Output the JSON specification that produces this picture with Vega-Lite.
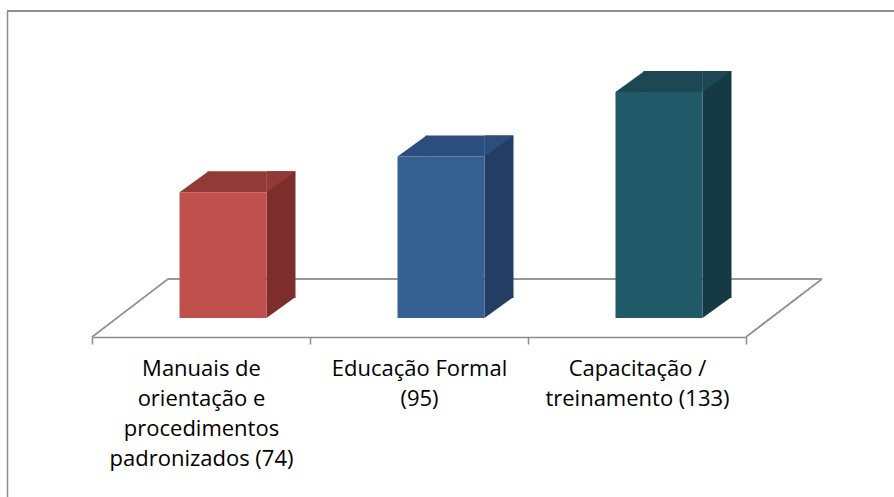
{
  "$schema": "https://vega.github.io/schema/vega-lite/v6.json",
  "width": 887,
  "height": 486,
  "autosize": {"type": "none"},
  "padding": {"left": 7, "top": 11, "right": 0, "bottom": 0},
  "background": "white",
  "config": {
    "view": {"stroke": null},
    "font": "Open Sans",
    "axisX": {
      "domainColor": "#8c8c8c",
      "domainWidth": 1.5,
      "tickColor": "#8c8c8c",
      "tickWidth": 1.5,
      "tickSize": 7,
      "tickBand": "extent",
      "labelFont": "Open Sans",
      "labelFontSize": 22,
      "labelColor": "#000000",
      "labelLineHeight": 30,
      "labelPadding": 14,
      "labelAngle": 0,
      "labelLimit": 400,
      "labelOverlap": false,
      "labelBound": false,
      "grid": false,
      "offset": -160,
      "labelExpr": "datum.value == 'Manuais de orientação e procedimentos padronizados (74)' ? ['Manuais de', 'orientação e', 'procedimentos', 'padronizados (74)'] : datum.value == 'Educação Formal (95)' ? ['Educação Formal', '(95)'] : datum.value == 'Capacitação / treinamento (133)' ? ['Capacitação /', 'treinamento (133)'] : ''"
    },
    "axisY": {
      "domainColor": "#8c8c8c",
      "domainWidth": 1.5,
      "ticks": false,
      "labels": false,
      "grid": false
    }
  },
  "data": {
    "values": [
      {"categoria": "Manuais de orientação e procedimentos padronizados (74)", "valor": 74},
      {"categoria": "Educação Formal (95)", "valor": 95},
      {"categoria": "Capacitação / treinamento (133)", "valor": 133}
    ]
  },
  "resolve": {"scale": {"color": "independent"}},
  "layer": [
    {
      "mark": {"type": "rule", "color": "#8c8c8c", "strokeWidth": 1.5},
      "encoding": {
        "y": {"datum": 180.588, "type": "quantitative", "title": null, "scale": {"domain": [-105.294, 180.588], "nice": false, "zero": false}}
      }
    },
    {
      "mark": {"type": "rule", "color": "#969696", "strokeWidth": 1.5, "xOffset": -33, "x2Offset": 185},
      "encoding": {
        "x": {"datum": "Manuais de orientação e procedimentos padronizados (74)", "type": "nominal", "title": null, "scale": {"domain": ["Manuais de orientação e procedimentos padronizados (74)", "Educação Formal (95)", "Capacitação / treinamento (133)"], "range": [85, 739], "paddingInner": 0, "paddingOuter": 0}},
        "x2": {"datum": "Capacitação / treinamento (133)"},
        "y": {"datum": 22.94, "type": "quantitative", "title": null}
      }
    },
    {
      "mark": {"type": "rule", "color": "#969696", "strokeWidth": 1.5, "xOffset": -109, "x2Offset": -33},
      "encoding": {
        "x": {"datum": "Manuais de orientação e procedimentos padronizados (74)", "type": "nominal", "title": null},
        "x2": {"datum": "Manuais de orientação e procedimentos padronizados (74)"},
        "y": {"datum": -11.176, "type": "quantitative", "title": null},
        "y2": {"datum": 22.94}
      }
    },
    {
      "mark": {"type": "rule", "color": "#969696", "strokeWidth": 1.5, "xOffset": 109, "x2Offset": 185},
      "encoding": {
        "x": {"datum": "Capacitação / treinamento (133)", "type": "nominal", "title": null},
        "x2": {"datum": "Capacitação / treinamento (133)"},
        "y": {"datum": -11.176, "type": "quantitative", "title": null},
        "y2": {"datum": 22.94}
      }
    },
    {
      "mark": {"type": "bar", "width": 29, "xOffset": 80, "yOffset": -21, "y2Offset": -20},
      "encoding": {
        "x": {"field": "categoria", "type": "nominal", "sort": null, "title": null},
        "y": {"field": "valor", "type": "quantitative", "title": null},
        "y2": {"datum": 0},
        "color": {"field": "categoria", "type": "nominal", "sort": null, "legend": null, "scale": {"range": ["#7d2e2c", "#233e62", "#163a43"]}}
      }
    },
    {
      "mark": {"type": "bar", "width": 59, "xOffset": 36, "yOffset": -21, "y2Offset": 0},
      "encoding": {
        "x": {"field": "categoria", "type": "nominal", "sort": null, "title": null},
        "y": {"field": "valor", "type": "quantitative", "title": null},
        "y2": {"field": "valor"},
        "color": {"field": "categoria", "type": "nominal", "sort": null, "legend": null, "scale": {"range": ["#923a37", "#2c4e7c", "#1b4853"]}}
      }
    },
    {
      "mark": {"type": "point", "shape": "M-1,0.7241L1,-0.7241L1,0.7241Z", "size": 841, "filled": true, "opacity": 1, "strokeWidth": 0, "xOffset": -7, "yOffset": -10.5},
      "encoding": {
        "x": {"field": "categoria", "type": "nominal", "sort": null, "title": null},
        "y": {"field": "valor", "type": "quantitative", "title": null},
        "color": {"field": "categoria", "type": "nominal", "sort": null, "legend": null, "scale": {"range": ["#923a37", "#2c4e7c", "#1b4853"]}}
      }
    },
    {
      "mark": {"type": "point", "shape": "M-1,-0.7241L1,-0.7241L-1,0.7241Z", "size": 841, "filled": true, "opacity": 1, "strokeWidth": 0, "xOffset": 80, "yOffset": -10.5},
      "encoding": {
        "x": {"field": "categoria", "type": "nominal", "sort": null, "title": null},
        "y": {"field": "valor", "type": "quantitative", "title": null},
        "color": {"field": "categoria", "type": "nominal", "sort": null, "legend": null, "scale": {"range": ["#923a37", "#2c4e7c", "#1b4853"]}}
      }
    },
    {
      "mark": {"type": "point", "shape": "M-1,-0.7241L1,-0.7241L-1,0.7241Z", "size": 841, "filled": true, "opacity": 1, "strokeWidth": 0, "xOffset": 80, "yOffset": -10.5},
      "encoding": {
        "x": {"field": "categoria", "type": "nominal", "sort": null, "title": null},
        "y": {"datum": 0, "type": "quantitative", "title": null},
        "color": {"field": "categoria", "type": "nominal", "sort": null, "legend": null, "scale": {"range": ["#7d2e2c", "#233e62", "#163a43"]}}
      }
    },
    {
      "mark": {"type": "bar", "width": 87, "xOffset": 22},
      "encoding": {
        "x": {"field": "categoria", "type": "nominal", "sort": null, "title": null},
        "y": {"field": "valor", "type": "quantitative", "title": null},
        "y2": {"datum": 0},
        "color": {"field": "categoria", "type": "nominal", "sort": null, "legend": null, "scale": {"range": ["#c0504d", "#376092", "#215968"]}}
      }
    }
  ]
}
